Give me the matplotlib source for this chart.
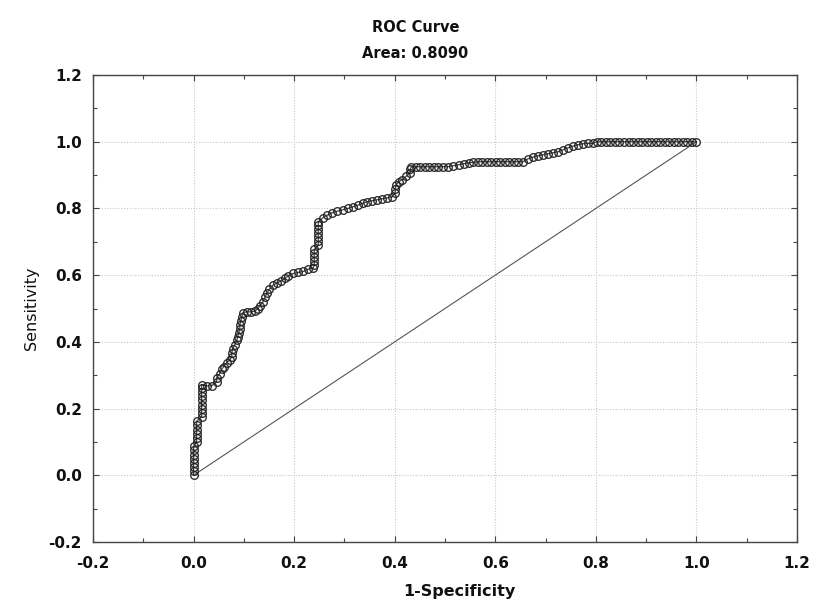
import matplotlib
matplotlib.use("Agg")
import matplotlib.pyplot as plt
from matplotlib.ticker import MultipleLocator, FormatStrFormatter

title_lines = ["ROC Curve", "Area: 0.8090"]
x_label = "1-Specificity"
y_label = "Sensitivity"

fpr = [
    0.0, 0.0, 0.0, 0.0, 0.0, 0.0, 0.0, 0.0,
    0.006, 0.006, 0.006, 0.006, 0.006, 0.006,
    0.016, 0.016, 0.016, 0.016, 0.016, 0.016, 0.016, 0.016, 0.016,
    0.026, 0.036, 0.046, 0.046, 0.052, 0.056, 0.060, 0.066, 0.072, 0.076, 0.076,
    0.078, 0.082, 0.086, 0.088, 0.090, 0.092, 0.092, 0.094, 0.096, 0.098,
    0.106, 0.114, 0.122, 0.128, 0.132, 0.138, 0.142, 0.146, 0.150, 0.158,
    0.166, 0.174, 0.182, 0.188, 0.198, 0.208, 0.218, 0.228, 0.238,
    0.240, 0.240, 0.240, 0.240, 0.240,
    0.248, 0.248, 0.248, 0.248, 0.248, 0.248, 0.248,
    0.257, 0.266, 0.275, 0.286, 0.297, 0.307, 0.317, 0.327, 0.336, 0.345,
    0.355, 0.365, 0.375, 0.385, 0.395,
    0.401, 0.401, 0.403, 0.408, 0.415, 0.423, 0.431, 0.431, 0.433,
    0.442, 0.451, 0.460, 0.469, 0.478, 0.487, 0.496, 0.505,
    0.516, 0.527, 0.537, 0.547, 0.556, 0.565,
    0.574, 0.583, 0.592, 0.601, 0.610, 0.619, 0.628, 0.637, 0.646, 0.655,
    0.665, 0.675, 0.685, 0.695, 0.705, 0.715, 0.725, 0.735, 0.745, 0.755,
    0.764, 0.774, 0.784, 0.794, 0.802,
    0.811, 0.820, 0.829, 0.838, 0.847, 0.856, 0.865, 0.874, 0.883, 0.892,
    0.901, 0.910, 0.919, 0.928, 0.937, 0.946, 0.955, 0.964, 0.973, 0.982,
    0.991, 1.000,
]
tpr = [
    0.0, 0.012, 0.025, 0.037, 0.050, 0.062, 0.075, 0.087,
    0.100, 0.112, 0.125, 0.137, 0.150, 0.162,
    0.175, 0.187, 0.200, 0.212, 0.225, 0.237, 0.250, 0.262, 0.272,
    0.268, 0.268, 0.281, 0.293, 0.305, 0.318, 0.326, 0.338, 0.345, 0.356, 0.368,
    0.380, 0.392, 0.405, 0.416, 0.428, 0.440, 0.452, 0.464, 0.476, 0.488,
    0.490, 0.490, 0.492, 0.500, 0.508, 0.520, 0.534, 0.546, 0.557, 0.570,
    0.576, 0.583, 0.590, 0.598, 0.605, 0.608, 0.611, 0.618, 0.622,
    0.630, 0.642, 0.654, 0.666, 0.677,
    0.689, 0.701, 0.713, 0.725, 0.737, 0.749, 0.760,
    0.772, 0.780, 0.787, 0.792, 0.796, 0.800, 0.805, 0.810, 0.815, 0.820,
    0.823, 0.826, 0.829, 0.832, 0.835,
    0.847, 0.859, 0.871, 0.880, 0.886, 0.896, 0.907, 0.918, 0.925,
    0.925, 0.925, 0.925, 0.925, 0.925, 0.925, 0.925, 0.925,
    0.928, 0.931, 0.934, 0.937, 0.938, 0.940,
    0.940, 0.940, 0.940, 0.940, 0.940, 0.940, 0.940, 0.940, 0.940, 0.940,
    0.949, 0.954, 0.958, 0.961, 0.964, 0.967, 0.970, 0.976, 0.982, 0.987,
    0.991, 0.994, 0.995, 0.995, 1.0,
    1.0, 1.0, 1.0, 1.0, 1.0, 1.0, 1.0, 1.0, 1.0, 1.0,
    1.0, 1.0, 1.0, 1.0, 1.0, 1.0, 1.0, 1.0, 1.0, 1.0,
    1.0, 1.0,
]
diag = [0.0, 1.0]

plt.rcParams['font.family'] = ['DejaVu Sans']

fig = plt.figure(figsize=(8.13, 6.07), dpi=100)
ax = fig.add_axes([0.1144, 0.1071, 0.8659, 0.7693])

ax.plot(diag, diag, color="#555555", lw=0.8, zorder=2)
ax.plot(fpr, tpr, color="#333333", lw=0.9, marker="o", markersize=5.5,
        markerfacecolor="none", markeredgecolor="#1e1e1e", markeredgewidth=1.0,
        alpha=0.9, zorder=3)

ax.set_xlim(-0.2, 1.2)
ax.set_ylim(-0.2, 1.2)
ax.xaxis.set_major_locator(MultipleLocator(0.2))
ax.yaxis.set_major_locator(MultipleLocator(0.2))
ax.xaxis.set_minor_locator(MultipleLocator(0.1))
ax.yaxis.set_minor_locator(MultipleLocator(0.1))
ax.xaxis.set_major_formatter(FormatStrFormatter('%.1f'))
ax.yaxis.set_major_formatter(FormatStrFormatter('%.1f'))

ax.tick_params(which='both', direction='in', top=True, right=True,
               color="#444444", width=0.8)
ax.tick_params(which='major', length=4)
ax.tick_params(which='minor', length=3)
ax.tick_params(axis='x', which='major', pad=10)
ax.tick_params(axis='y', which='major', pad=8)
for lab in ax.get_xticklabels() + ax.get_yticklabels():
    lab.set_fontweight('bold')
    lab.set_fontsize(11)
    lab.set_color("#111111")

ax.grid(True, which='major', color="#c8c8c8", linestyle=(0, (1, 1.5)), lw=0.8)
ax.set_axisbelow(True)
for sp in ax.spines.values():
    sp.set_color("#444444")
    sp.set_linewidth(1.0)

ax.set_xlabel(x_label, fontsize=11.5, fontweight='bold', color="#111111")
ax.set_ylabel(y_label, fontsize=11.5, color="#111111")
ax.xaxis.label.set_va('center')
ax.yaxis.label.set_va('center')
ax.xaxis.set_label_coords(0.52, -0.107)
ax.yaxis.set_label_coords(-0.087, 0.5)

fig.text(0.511, 1 - 28 / 607, title_lines[0], ha='center', va='center',
         fontsize=10.5, fontweight='bold', color="#111111")
fig.text(0.511, 1 - 53 / 607, title_lines[1], ha='center', va='center',
         fontsize=10.5, fontweight='bold', color="#111111")

fig.savefig("out.png", dpi=100, facecolor="white")
